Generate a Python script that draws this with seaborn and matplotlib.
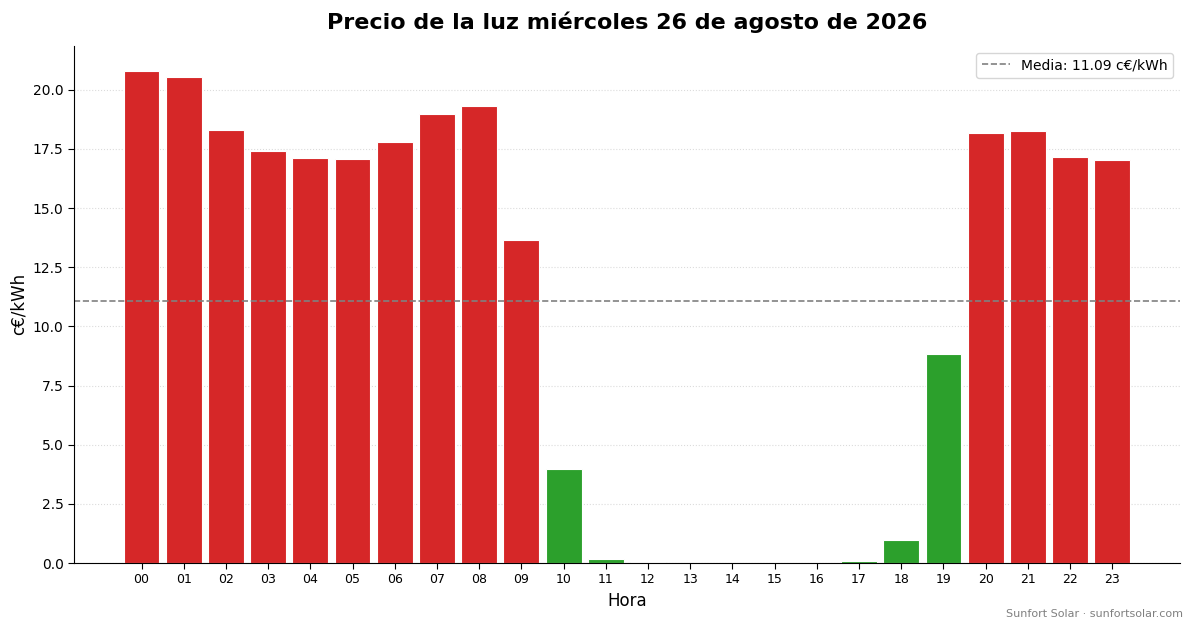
import pandas as pd
import matplotlib
matplotlib.use("Agg")
import matplotlib.pyplot as plt
import seaborn as sns

horas = [f"{h:02d}" for h in range(24)]
precios = [20.78, 20.53, 18.30, 17.43, 17.11, 17.07, 17.81, 19.00, 19.33, 13.67,
           3.98, 0.17, 0.03, 0.0, 0.0, 0.0, 0.0, 0.08, 0.97, 8.85,
           18.17, 18.28, 17.16, 17.05]
media = 11.09

df = pd.DataFrame({"hora": horas, "precio": precios})
df["tipo"] = ["alto" if p > media else "bajo" for p in precios]
paleta = {"alto": "#d62728", "bajo": "#2ca02c"}

sns.set_style("white")
plt.rcParams["font.family"] = ["DejaVu Sans"]
plt.rcParams.update({"text.color": "black", "axes.labelcolor": "black",
                     "xtick.color": "black", "ytick.color": "black",
                     "axes.edgecolor": "black"})

fig, ax = plt.subplots(figsize=(11.93, 6.28), dpi=100)
fig.subplots_adjust(left=0.062, right=0.989, top=0.927, bottom=0.1035)

sns.barplot(data=df, x="hora", y="precio", hue="tipo", palette=paleta,
            saturation=1, edgecolor="white", linewidth=0.8, width=0.85,
            legend=False, ax=ax)

ax.axhline(media, color="gray", linestyle="--", linewidth=1.2,
           label=f"Media: {media:.2f} c€/kWh")
ax.legend(loc="upper right", fontsize=10)

ax.set_xlim(-1.6, 24.6)
ax.set_ylim(0, 21.86)
ax.set_title("Precio de la luz miércoles 26 de agosto de 2026",
             fontsize=16, fontweight="bold", pad=12)
ax.set_xlabel("Hora", fontsize=12)
ax.set_ylabel("c€/kWh", fontsize=12)
ax.tick_params(axis="x", labelsize=9, length=4, bottom=True)
ax.tick_params(axis="y", labelsize=10, length=4, left=True)
ax.grid(axis="y", linestyle=":", color="lightgray", alpha=0.8)
ax.set_axisbelow(True)
sns.despine(ax=ax)

fig.text(0.992, 0.015, "Sunfort Solar · sunfortsolar.com", ha="right",
         va="bottom", fontsize=8, color="gray")

fig.savefig("out.png", dpi=100)
